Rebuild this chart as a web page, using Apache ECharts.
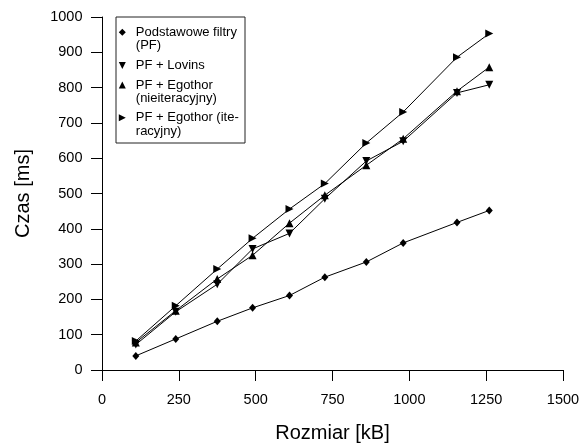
<!DOCTYPE html>
<html>
<head>
<meta charset="utf-8">
<script src="https://cdn.jsdelivr.net/npm/echarts@6/dist/echarts.min.js"></script>
<style>
html,body{margin:0;padding:0;background:#fff;}
#chart{width:580px;height:443px;}
</style>
</head>
<body>
<div id="chart"></div>
<script>
// Data
var sizesKB = [110, 240, 375, 490, 610, 725, 860, 980, 1155, 1260];
var pfBasic = [40, 88, 138, 176, 211, 263, 306, 360, 418, 452];
var pfLovins = [72, 165, 243, 343, 387, 485, 592, 648, 785, 808];
var pfEgothorNonIter = [78, 168, 258, 325, 416, 495, 580, 655, 790, 858];
var pfEgothorIter = [82, 182, 286, 373, 456, 528, 643, 731, 886, 953];
var seriesNames = [
  'Podstawowe filtry\n(PF)',
  'PF + Lovins',
  'PF + Egothor\n(nieiteracyjny)',
  'PF + Egothor (ite-\nracyjny)'
];
var xTicks = { min: 0, max: 1500, interval: 250 };
var yTicks = { min: 0, max: 1000, interval: 100 };

var FONT = '"Liberation Sans", Arial, sans-serif';
var DOWN = 'path://M0,0 L10,0 L5,10 Z';
var UP = 'path://M5,0 L10,10 L0,10 Z';
var RIGHT = 'path://M0,0 L10,5 L0,10 Z';
var symbols = ['diamond', DOWN, UP, RIGHT];
var symbolSizes = [[7, 8], [8, 8], [8, 8], [8, 8]];
var allValues = [pfBasic, pfLovins, pfEgothorNonIter, pfEgothorIter];

// Legend icons: visible shape at top, invisible anchor point below so the
// icon lines up with the first text line of a two-line legend entry.
var LH = 13.4;
var ICON = 7;
function legendIcon(shape, twoLine) {
  if (!twoLine) return 'path://' + shape;
  var ext = ((ICON + LH) / ICON * 10).toFixed(2);
  return 'path://' + shape + ' M5,' + ext + ' L5.001,' + ext + ' Z';
}
var iconShapes = [
  'M5,0 L10,5 L5,10 L0,5 Z',
  'M0,0 L10,0 L5,10 Z',
  'M5,0 L10,10 L0,10 Z',
  'M0,0 L10,5 L0,10 Z'
];

function pairs(xs, ys) {
  return xs.map(function (x, i) { return [x, ys[i]]; });
}

var series = allValues.map(function (vals, i) {
  return {
    name: seriesNames[i],
    type: 'line',
    data: pairs(sizesKB, vals),
    symbol: symbols[i],
    symbolSize: symbolSizes[i],
    showSymbol: true,
    lineStyle: { color: '#000', width: 1 },
    itemStyle: { color: '#000' },
    z: 2 + i
  };
});

var firstLineCenters = [32.3, 65.5, 85, 117.8];
var legends = seriesNames.map(function (nm, i) {
  var twoLine = nm.indexOf('\n') >= 0;
  return {
    show: true,
    orient: 'vertical',
    left: 118.8,
    top: firstLineCenters[i] - 6.7,
    padding: 0,
    itemGap: 0,
    itemWidth: ICON,
    itemHeight: twoLine ? ICON + LH : ICON,
    selectedMode: false,
    data: [{ name: nm, icon: legendIcon(iconShapes[i], twoLine) }],
    itemStyle: { color: '#000', borderWidth: 0 },
    textStyle: {
      fontFamily: FONT,
      fontSize: 13,
      color: '#000',
      lineHeight: LH,
      backgroundColor: 'rgba(0,0,0,0)',
      padding: [0, 0, 0, 5]
    }
  };
});

function plain(v) { return String(v); }

var chart = echarts.init(document.getElementById('chart'), null, { renderer: 'canvas' });
chart.setOption({
  animation: false,
  backgroundColor: '#fff',
  grid: { left: 102, right: 17, top: 17, bottom: 73, containLabel: false, outerBoundsMode: 'none' },
  legend: legends,
  graphic: [{
    type: 'rect',
    shape: { x: 116, y: 17, width: 129, height: 126 },
    style: { fill: 'none', stroke: '#222', lineWidth: 1 },
    z: 10
  }],
  xAxis: {
    type: 'value',
    min: xTicks.min, max: xTicks.max, interval: xTicks.interval,
    name: 'Rozmiar [kB]',
    nameLocation: 'middle',
    nameGap: 53,
    nameTextStyle: { fontFamily: FONT, fontSize: 20, color: '#000' },
    axisLine: { show: true, lineStyle: { color: '#000', width: 1 } },
    axisTick: { show: true, inside: false, length: 11, lineStyle: { color: '#000', width: 1 } },
    axisLabel: { fontFamily: FONT, fontSize: 14.5, color: '#000', margin: 22, formatter: plain },
    splitLine: { show: false }
  },
  yAxis: {
    type: 'value',
    min: yTicks.min, max: yTicks.max, interval: yTicks.interval,
    name: 'Czas [ms]',
    nameLocation: 'middle',
    nameGap: 69,
    nameTextStyle: { fontFamily: FONT, fontSize: 20, color: '#000' },
    axisLine: { show: true, lineStyle: { color: '#000', width: 1 } },
    axisTick: { show: true, inside: false, length: 11, lineStyle: { color: '#000', width: 1 } },
    axisLabel: { fontFamily: FONT, fontSize: 14.5, color: '#000', margin: 19.5, formatter: plain },
    splitLine: { show: false }
  },
  series: series
});
</script>
</body>
</html>
